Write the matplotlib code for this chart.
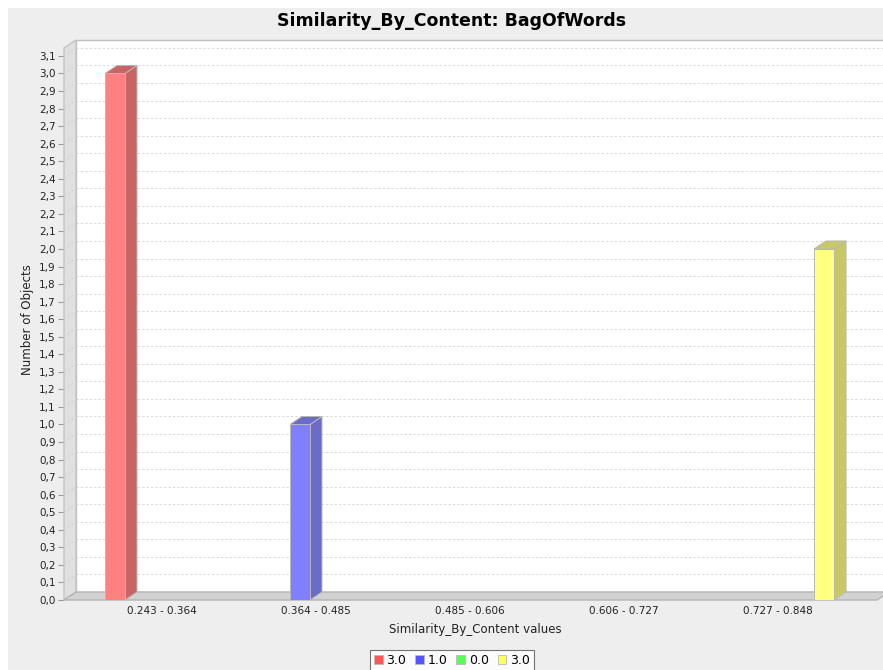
import numpy as np
import matplotlib
matplotlib.use("Agg")
import matplotlib.pyplot as plt
from matplotlib.patches import Polygon, Rectangle, Patch

# datos del histograma
categorias = ["0.243 - 0.364", "0.364 - 0.485", "0.485 - 0.606",
              "0.606 - 0.727", "0.727 - 0.848"]
series_nombres = ["3.0", "1.0", "0.0", "3.0"]
serie_roja = [3, 0, 0, 0, 0]
serie_azul = [0, 1, 0, 0, 0]
serie_verde = [0, 0, 0, 0, 0]
serie_amarilla = [0, 0, 0, 0, 2]
valores = [serie_roja, serie_azul, serie_verde, serie_amarilla]

colores_leyenda = ["#ff5555", "#5555ff", "#55ff55", "#ffff55"]
colores_frente = ["#ff8080", "#8080ff", "#80ff80", "#ffff80"]
colores_lado = ["#c86464", "#6b6bc8", "#64c864", "#c8c864"]

W, H = 883, 670
fig = plt.figure(figsize=(W / 100, H / 100), dpi=100, facecolor="white")
# fondo gris del grafico (deja un borde blanco arriba y a la izquierda)
fig.patches.append(Rectangle((8 / W, 0), 1, 1 - 8 / H, transform=fig.transFigure,
                             facecolor="#eeeeee", edgecolor="none", zorder=-10))

x0, x1 = -0.633, 4.646
ymax = 3.145
ax = fig.add_axes([64 / W, 1 - 600 / H, (877 - 64) / W, (600 - 48) / H])
ax.set_xlim(x0, x1)
ax.set_ylim(0, ymax)
ax.patch.set_visible(False)
for s in ax.spines.values():
    s.set_visible(False)

# desplazamiento 3D (12 px a la derecha, 8 px hacia arriba) en unidades de datos
DX = 12 * (x1 - x0) / (877 - 64)
DY = 8 * ymax / (600 - 48)

# pared del fondo, pared izquierda y suelo
ax.add_patch(Rectangle((x0 + DX, DY), (x1 - x0) + 2, ymax, facecolor="white",
                       edgecolor="#c0c0c0", lw=1, clip_on=False, zorder=1))
ax.add_patch(Polygon([(x0, 0), (x0, ymax), (x0 + DX, ymax + DY), (x0 + DX, DY)],
                     closed=True, facecolor="#e0e0e0", edgecolor="#c4c4c4",
                     lw=1, clip_on=False, zorder=2))
ax.add_patch(Polygon([(x0, 0), (x0 + DX, DY), (x1 + DX, DY), (x1, 0)],
                     closed=True, facecolor="#d2d2d2", edgecolor="#b4b4b4",
                     lw=1, clip_on=False, zorder=2))

ticks = np.round(np.arange(0, 3.11, 0.1), 1)
for v in ticks[1:]:
    ax.plot([x0 + DX, x1 + 2], [v + DY, v + DY], color="#dadada", lw=0.7,
            ls=(0, (2.5, 2)), clip_on=False, zorder=1.5)
    ax.plot([x0, x0 + DX], [v, v + DY], color="#d2d2d2", lw=0.7,
            ls=(0, (2.5, 2)), clip_on=False, zorder=2.5)

# barras con efecto 3D
ancho = 0.13
paso = 0.2013
pos = np.arange(len(categorias))
for k, serie in enumerate(valores):
    xs = pos + (k - 1.5) * paso
    for xc, v in zip(xs, serie):
        if v <= 0:
            continue
        l, r = xc - ancho / 2, xc + ancho / 2
        ax.add_patch(Polygon([(r, 0), (r + DX, DY), (r + DX, v + DY), (r, v)],
                             closed=True, facecolor=colores_lado[k],
                             edgecolor="#b8b8b8", lw=0.7, zorder=3))
        ax.add_patch(Polygon([(l, v), (l + DX, v + DY), (r + DX, v + DY), (r, v)],
                             closed=True, facecolor=colores_lado[k],
                             edgecolor="#b8b8b8", lw=0.7, zorder=3))
    ax.bar(xs, serie, width=ancho, color=colores_frente[k],
           edgecolor="#b8b8b8", linewidth=0.7, zorder=4)

ax.set_yticks(ticks)
ax.set_yticklabels([f"{t:.1f}".replace(".", ",") for t in ticks])
ax.tick_params(axis="y", length=4, color="#9a9a9a", labelsize=7.5, pad=2,
               labelcolor="#222222")
ax.set_xticks(pos)
ax.set_xticklabels(categorias)
ax.tick_params(axis="x", length=0, labelsize=7.5, pad=4, labelcolor="#222222")

fig.text(452 / W, 1 - 21 / H, "Similarity_By_Content: BagOfWords",
         ha="center", va="center", fontsize=12.5, fontweight="bold")
fig.text(28 / W, 1 - 320 / H, "Number of Objects", rotation=90,
         ha="center", va="center", fontsize=8.5, color="#222222")
fig.text(475 / W, 1 - 630 / H, "Similarity_By_Content values",
         ha="center", va="center", fontsize=8.5, color="#222222")

handles = [Patch(facecolor=c, edgecolor="#bbbbbb", lw=0.6) for c in colores_leyenda]
leg = fig.legend(handles, series_nombres, loc="upper center", ncol=4,
                 bbox_to_anchor=(452 / W, 1 - 650 / H), fontsize=9,
                 frameon=True, fancybox=False, edgecolor="#555555",
                 handlelength=0.7, handleheight=0.7, handletextpad=0.3,
                 columnspacing=0.7, borderpad=0.3, borderaxespad=0)
leg.get_frame().set_linewidth(0.8)
leg.get_frame().set_facecolor("white")

fig.savefig("out.png", dpi=100, facecolor="white")
